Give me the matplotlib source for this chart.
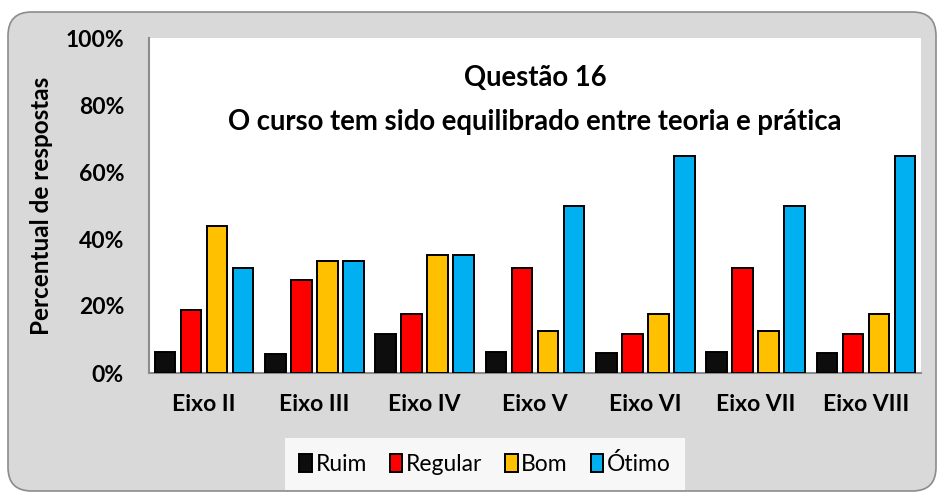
import matplotlib
matplotlib.use("Agg")
import matplotlib.pyplot as plt
from matplotlib.patches import FancyBboxPatch
from matplotlib.ticker import PercentFormatter
import numpy as np

categories = ["Eixo II", "Eixo III", "Eixo IV", "Eixo V", "Eixo VI", "Eixo VII", "Eixo VIII"]
ruim = [6.25, 5.56, 11.76, 6.25, 5.88, 6.25, 5.88]
regular = [18.75, 27.78, 17.65, 31.25, 11.76, 31.25, 11.76]
bom = [43.75, 33.33, 35.29, 12.5, 17.65, 12.5, 17.65]
otimo = [31.25, 33.33, 35.29, 50.0, 64.71, 50.0, 64.71]
series_names = ["Ruim", "Regular", "Bom", "Ótimo"]
colors = ["#0D0D0D", "#FF0000", "#FFC000", "#00B0F0"]
title_lines = ["Questão 16", "O curso tem sido equilibrado entre teoria e prática"]
ylabel = "Percentual de respostas"

plt.rcParams['font.family'] = ['Lato', 'DejaVu Sans']

fig = plt.figure(figsize=(9.44, 4.99), dpi=100)
fig.patch.set_facecolor("white")

W, H = 944, 499
bg = FancyBboxPatch((8 / W, 8 / H), (936 - 8) / W, (490 - 11) / H,
                    boxstyle="round,pad=0,rounding_size=0.025",
                    transform=fig.transFigure, facecolor="#D9D9D9",
                    edgecolor="#8C8C8C", linewidth=1.2, zorder=-10,
                    mutation_aspect=W / H)
fig.patches.append(bg)

ax = fig.add_axes([149 / W, (H - 373) / H, (921 - 149) / W, (373 - 38) / H])
ax.set_zorder(1)
ax.set_facecolor("white")

x = np.arange(len(categories))
pitch = 0.236
width = 0.186
data = [ruim, regular, bom, otimo]
for i, (vals, name, c) in enumerate(zip(data, series_names, colors)):
    ax.bar(x + (i - 1.5) * pitch, vals, width=width, color=c, edgecolor="black",
           linewidth=1.4, label=name, zorder=3)

ax.set_xlim(-0.5, len(categories) - 0.5)
ax.set_ylim(0, 100)
ax.set_yticks(np.arange(0, 101, 20))
ax.yaxis.set_major_formatter(PercentFormatter(decimals=0))
ax.set_xticks(x)
ax.set_xticklabels(categories)
ax.tick_params(axis="both", length=0, labelsize=16.5)
ax.tick_params(axis="y", pad=18)
ax.tick_params(axis="x", pad=15)
for lab in ax.get_xticklabels() + ax.get_yticklabels():
    lab.set_fontweight("bold")

for s in ["top", "right"]:
    ax.spines[s].set_visible(False)
for s in ["left", "bottom"]:
    ax.spines[s].set_color("#8C8C8C")
    ax.spines[s].set_linewidth(1.5)

ax.text(0.5, 0.88, title_lines[0], transform=ax.transAxes, ha="center", va="center",
        fontsize=19.8, fontweight="bold")
ax.text(0.5, 0.75, title_lines[1], transform=ax.transAxes, ha="center", va="center",
        fontsize=19.8, fontweight="bold")

fig.text(42 / W, 1 - 206 / H, ylabel, rotation=90, ha="center", va="center",
         fontsize=17.5, fontweight="bold")

leg = fig.legend(loc="center", bbox_to_anchor=(485 / W, 1 - 464 / H), ncol=4,
                 frameon=True, fancybox=False, fontsize=16.5, handlelength=0.55,
                 handleheight=0.8, handletextpad=0.15, columnspacing=1.0,
                 borderpad=0.65, borderaxespad=0)
leg.get_frame().set_facecolor("white")
leg.get_frame().set_edgecolor("white")
leg.get_frame().set_linewidth(0)

fig.savefig("out.png", dpi=100, facecolor=fig.get_facecolor())
